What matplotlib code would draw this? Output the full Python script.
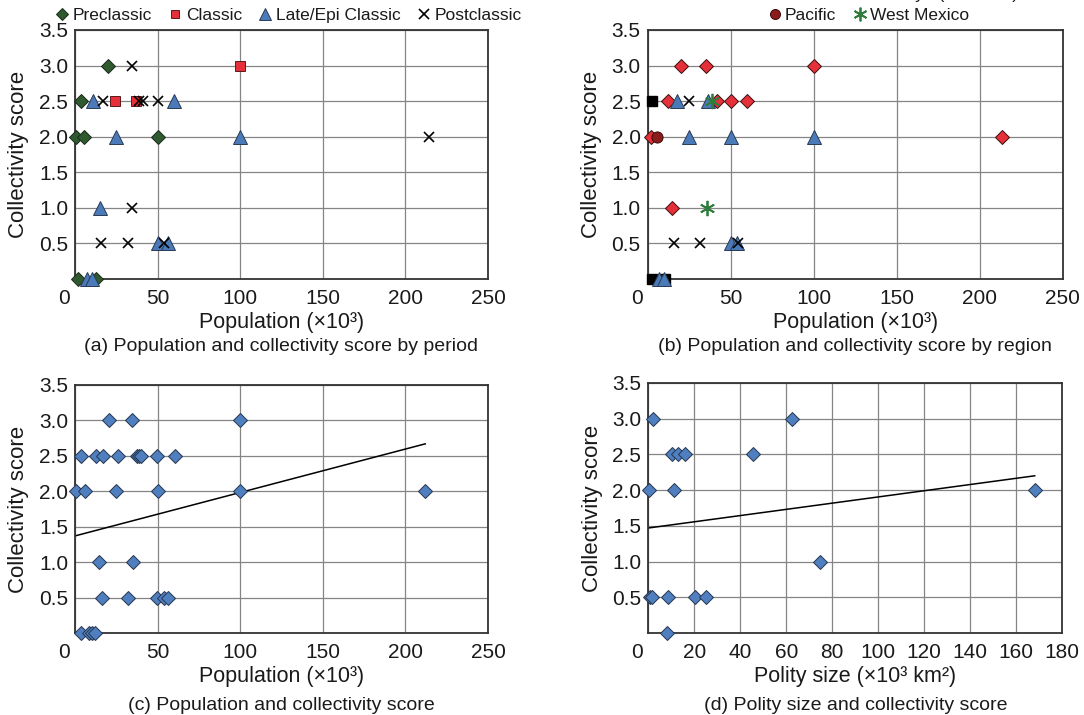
import numpy as np
import matplotlib
matplotlib.use("Agg")
import matplotlib.pyplot as plt
import matplotlib.transforms as mtransforms
from matplotlib.lines import Line2D


OUTPUT = "out.png"

# (a) population (x10^3) and collectivity score by period
PRE_POP = [20, 3.4, 0.6, 5.5, 50, 2, 13]
PRE_SCORE = [3.0, 2.5, 2.0, 2.0, 2.0, 0.0, 0.0]
CLA_POP = [100, 24, 37]
CLA_SCORE = [3.0, 2.5, 2.5]
LATE_POP = [11, 60, 25, 100, 15, 50, 56.5, 7, 10.5]
LATE_SCORE = [2.5, 2.5, 2.0, 2.0, 1.0, 0.5, 0.5, 0.0, 0.0]
POST_POP = [34.3, 17.2, 39, 41.4, 50, 214, 34.3, 15.6, 31.9, 54]
POST_SCORE = [3.0, 2.5, 2.5, 2.5, 2.5, 2.0, 1.0, 0.5, 0.5, 0.5]

# (b) same data by region
REGION_LABELS = ["Central Mexico", "Gulf", "Maya (lowlands)", "Oaxaca",
                 "Pacific", "West Mexico"]
CM_POP = [20, 35.3, 100, 12.2, 42, 50.3, 59.8, 2, 213.7, 14.6]
CM_SCORE = [3.0, 3.0, 3.0, 2.5, 2.5, 2.5, 2.5, 2.0, 2.0, 1.0]
GC_POP = [2.5, 2.5, 10.5]
GC_SCORE = [2.5, 0.0, 0.0]
MAYA_POP = [17.6, 36.2, 25, 50, 100, 50, 54, 7, 10]
MAYA_SCORE = [2.5, 2.5, 2.0, 2.0, 2.0, 0.5, 0.5, 0.0, 0.0]
OAX_POP = [25, 16, 31.6, 54.7]
OAX_SCORE = [2.5, 0.5, 0.5, 0.5]
PAC_POP = [6]
PAC_SCORE = [2.0]
WM_POP = [39, 35.6]
WM_SCORE = [2.5, 1.0]

# (c) all polities
ALL_POP = [20.4, 34.8, 100,
           3.4, 12.6, 17, 26, 37.6, 39, 40, 49.6, 60.4,
           0.6, 6, 24.6, 50, 100, 212,
           14.6, 35.4,
           16.4, 32.2, 49.6, 54, 56.4,
           3.4, 8.6, 10.4, 12.2]
ALL_SCORE = [3.0, 3.0, 3.0,
             2.5, 2.5, 2.5, 2.5, 2.5, 2.5, 2.5, 2.5, 2.5,
             2.0, 2.0, 2.0, 2.0, 2.0, 2.0,
             1.0, 1.0,
             0.5, 0.5, 0.5, 0.5, 0.5,
             0.0, 0.0, 0.0, 0.0]

# (d) polity size (x10^3 km2)
SIZE = [2.2, 62.6, 10.2, 13, 16.1, 45.7, 0.3, 11.3, 168, 74.6,
        0.7, 1.7, 8.4, 20.2, 25.1, 8.1]
SIZE_SCORE = [3.0, 3.0, 2.5, 2.5, 2.5, 2.5, 2.0, 2.0, 2.0, 1.0,
              0.5, 0.5, 0.5, 0.5, 0.5, 0.0]

# trend lines (intercept, slope)
TREND_POP = (1.37, 0.00613)
TREND_SIZE = (1.47, 0.00435)

W, H = 1084, 715
FONT = ["Liberation Sans", "DejaVu Sans"]
TXT = "#1a1a1a"
BLUE = "#4f7fbf"


def px_axes(fig, left, right, top, bottom):
    return fig.add_axes([left / W, 1 - bottom / H, (right - left) / W, (bottom - top) / H])


def style_axes(fig, ax, xmax, xstep, xlabel):
    ax.set_xlim(0, xmax)
    ax.set_ylim(0, 3.5)
    ax.set_xticks(np.arange(0, xmax + 0.1, xstep))
    ax.set_yticks([0.5, 1.0, 1.5, 2.0, 2.5, 3.0, 3.5])
    ax.set_yticklabels(["0.5", "1.0", "1.5", "2.0", "2.5", "3.0", "3.5"])
    ax.grid(True, color="#858585", linewidth=0.9)
    ax.set_axisbelow(True)
    for s in ax.spines.values():
        s.set_color("#333333")
        s.set_linewidth(1.3)
    ax.tick_params(length=0, labelsize=15, colors=TXT)
    ax.tick_params(axis="x", pad=7)
    ax.tick_params(axis="y", pad=5)
    ax.set_xlabel(xlabel, fontsize=15.5, labelpad=3, color=TXT)
    ax.set_ylabel("Collectivity score", fontsize=16, labelpad=7, color=TXT)
    # the "0" on the x axis sits a bit left of the corner
    shift = mtransforms.ScaledTranslation(-11 / 100, 0, fig.dpi_scale_trans)
    first = ax.get_xticklabels()[0]
    first.set_transform(first.get_transform() + shift)


def scatter(ax, x, y, **kw):
    ax.plot(x, y, linestyle="none", clip_on=False, zorder=3, **kw)


def legend(fig, handles, labels, cx, cy, ncol):
    fig.legend(handles, labels, loc="center", bbox_to_anchor=(cx / W, 1 - cy / H), ncol=ncol,
               frameon=False, fontsize=12.5, handletextpad=0.15, columnspacing=0.9,
               handlelength=0.9, borderpad=0, markerscale=0.9, labelcolor=TXT)


def main():
    plt.rcParams["font.family"] = FONT
    fig = plt.figure(figsize=(W / 100, H / 100), dpi=100)

    diamond_g = dict(marker="D", markersize=7, markerfacecolor="#2f5a2f", markeredgecolor="#1a2a1a", markeredgewidth=0.7)
    square_r = dict(marker="s", markersize=7, markerfacecolor="#e5303a", markeredgecolor="#5a1a1a", markeredgewidth=0.7)
    tri_b = dict(marker="^", markersize=10, markerfacecolor="#4a7ab8", markeredgecolor="#2a3a55", markeredgewidth=0.7)
    cross_k = dict(marker="x", markersize=7.5, color="black", markeredgewidth=1.2)
    diamond_r = dict(marker="D", markersize=7, markerfacecolor="#e5303a", markeredgecolor="#3a1010", markeredgewidth=0.7)
    square_k = dict(marker="s", markersize=7, markerfacecolor="black", markeredgecolor="black")
    circle_r = dict(marker="o", markersize=8, markerfacecolor="#8b1c1c", markeredgecolor="#3a0a0a", markeredgewidth=0.7)
    star_g = dict(marker=(6, 2, 0), markersize=11, color="#2e7d3a", markeredgewidth=1.3)
    diamond_b = dict(marker="D", markersize=7, markerfacecolor=BLUE, markeredgecolor="#26364f", markeredgewidth=0.7)

    # (a)
    ax = px_axes(fig, 75, 488, 30, 279)
    style_axes(fig, ax, 250, 50, "Population (×10³)")
    scatter(ax, PRE_POP, PRE_SCORE, **diamond_g)
    scatter(ax, CLA_POP, CLA_SCORE, **square_r)
    scatter(ax, LATE_POP, LATE_SCORE, **tri_b)
    scatter(ax, POST_POP, POST_SCORE, **cross_k)
    handles = [Line2D([], [], linestyle="none", **d) for d in (diamond_g, square_r, tri_b, cross_k)]
    legend(fig, handles, ["Preclassic", "Classic", "Late/Epi Classic", "Postclassic"], 288, 15, 4)
    fig.text((75 + 488) / 2 / W, 1 - 347 / H, "(a) Population and collectivity score by period",
             ha="center", va="center", fontsize=14, color=TXT)

    # (b)
    ax = px_axes(fig, 647.5, 1062.7, 30, 279)
    style_axes(fig, ax, 250, 50, "Population (×10³)")
    scatter(ax, CM_POP, CM_SCORE, **diamond_r)
    scatter(ax, GC_POP, GC_SCORE, **square_k)
    scatter(ax, MAYA_POP, MAYA_SCORE, **tri_b)
    scatter(ax, OAX_POP, OAX_SCORE, **cross_k)
    scatter(ax, PAC_POP, PAC_SCORE, **circle_r)
    scatter(ax, WM_POP, WM_SCORE, **star_g)
    styles = (diamond_r, square_k, tri_b, cross_k, circle_r, star_g)
    handles = [Line2D([], [], linestyle="none", **d) for d in styles]
    # first legend row is cut by the top edge, as in the source figure
    legend(fig, handles[:4], REGION_LABELS[:4], 885, -6, 4)
    legend(fig, handles[4:], REGION_LABELS[4:], 868, 15, 2)
    fig.text((647.5 + 1062.7) / 2 / W, 1 - 347 / H, "(b) Population and collectivity score by region",
             ha="center", va="center", fontsize=14, color=TXT)

    # (c)
    ax = px_axes(fig, 75, 488, 385, 633)
    style_axes(fig, ax, 250, 50, "Population (×10³)")
    scatter(ax, ALL_POP, ALL_SCORE, **diamond_b)
    xs = np.array([0, max(ALL_POP)])
    ax.plot(xs, TREND_POP[0] + TREND_POP[1] * xs, color="black", linewidth=1.1, zorder=2)
    fig.text((75 + 488) / 2 / W, 1 - 705 / H, "(c) Population and collectivity score",
             ha="center", va="center", fontsize=14, color=TXT)

    # (d)
    ax = px_axes(fig, 648.3, 1062.3, 383, 633)
    style_axes(fig, ax, 180, 20, "Polity size (×10³ km²)")
    scatter(ax, SIZE, SIZE_SCORE, **diamond_b)
    xs = np.array([0, max(SIZE)])
    ax.plot(xs, TREND_SIZE[0] + TREND_SIZE[1] * xs, color="black", linewidth=1.1, zorder=2)
    fig.text((648.3 + 1062.3) / 2 / W, 1 - 705 / H, "(d) Polity size and collectivity score",
             ha="center", va="center", fontsize=14, color=TXT)

    fig.savefig(OUTPUT, dpi=100)


if __name__ == "__main__":
    main()
